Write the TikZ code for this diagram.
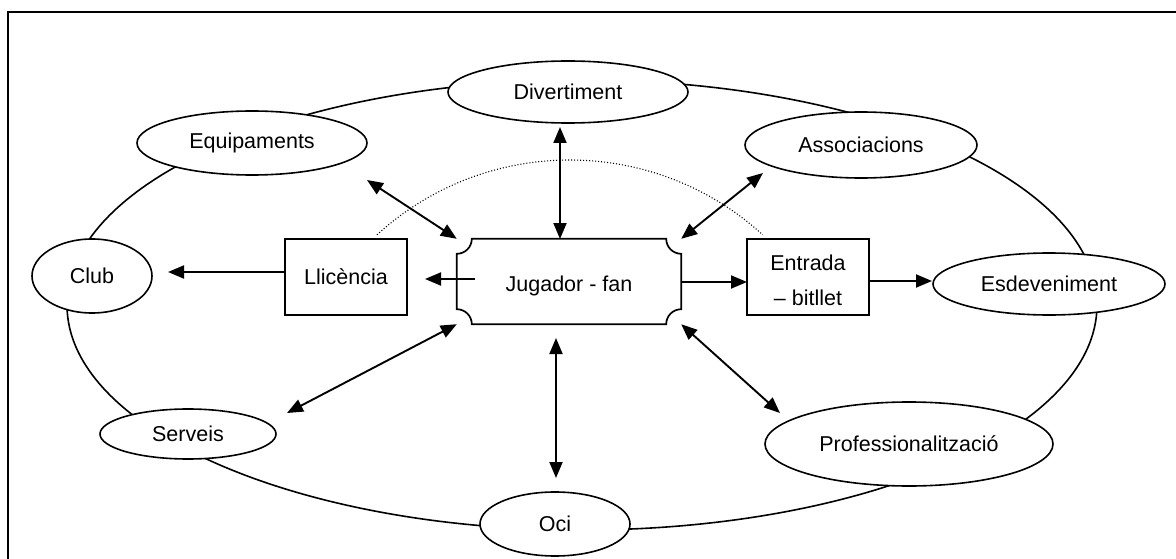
\documentclass[tikz,border=0pt]{standalone}
\usepackage{fontspec}
\setmainfont{Liberation Sans}
\usetikzlibrary{shapes.geometric,arrows.meta,calc}

\tikzset{
  lbl/.style={font=\fontsize{21.5}{35}\selectfont, text=black},
  oval/.style={ellipse, draw, line width=1.6pt, fill=white, inner sep=0pt, lbl},
  box/.style={rectangle, draw, line width=1.7pt, fill=white, inner sep=0pt, lbl, align=center,
              minimum width=122pt, minimum height=76pt},
  link/.style={line width=1.9pt, -{Triangle[length=16pt,width=13pt]}},
  both/.style={line width=1.9pt, {Triangle[length=16pt,width=13pt]}-{Triangle[length=16pt,width=13pt]}}
}

\begin{document}
\begin{tikzpicture}[x=1pt,y=1pt]
  \useasboundingbox (0,0) rectangle (1176,-559);
  % frame
  \draw[line width=2.5pt] (8,-559) -- (8,-12) -- (1176,-12);

  % the ring on which the satellite ovals sit
  \draw[line width=1.6pt] (582,-305) ellipse [x radius=515, y radius=225];

  % dotted arc over the centre
  \draw[line width=1.1pt, dash pattern=on 1pt off 2pt] (377,-234.8) arc[start angle=132.4, end angle=47.6, radius=286];

  % satellite ovals
  \node[oval, minimum width=240pt, minimum height=62pt] (dv) at (568,-92)  {Divertiment};
  \node[oval, minimum width=230pt, minimum height=64pt] (eq) at (252,-143) {Equipaments};
  \node[oval, minimum width=232pt, minimum height=66pt] (as) at (861,-145) {Associacions};
  \node[oval, minimum width=120pt, minimum height=74pt] (cl) at (92,-276)  {Club};
  \node[oval, minimum width=232pt, minimum height=62pt] (es) at (1049,-284) {Esdeveniment};
  \node[oval, minimum width=176pt, minimum height=50pt] (sv) at (188,-434) {Serveis};
  \node[oval, minimum width=150pt, minimum height=64pt] (oc) at (555,-524) {Oci};
  \node[oval, minimum width=288pt, minimum height=84pt] (pr) at (909,-444) {Professionalització};

  % rectangles
  \node[box] (ll) at (346,-277) {Llicència};
  \node[box] (en) at (808,-277) {};
  \node[lbl, align=center] (entxt) at ([yshift=-3pt]en.center) {Entrada\\– bitllet};

  % central plaque with concave corners
  \node[lbl, minimum width=224pt, minimum height=85pt, inner sep=0pt] (j) at (569,-281.5) {};
  \def\rr{15}
  \draw[line width=1.7pt, fill=white]
    ($(j.north west)+(\rr,0)$) -- ($(j.north east)+(-\rr,0)$)
    arc[start angle=180, end angle=270, radius=\rr]
    -- ($(j.south east)+(0,\rr)$)
    arc[start angle=90, end angle=180, radius=\rr]
    -- ($(j.south west)+(\rr,0)$)
    arc[start angle=0, end angle=90, radius=\rr]
    -- ($(j.north west)+(0,-\rr)$)
    arc[start angle=270, end angle=360, radius=\rr]
    -- cycle;
  \node[lbl] (jtxt) at ([yshift=-4pt]j.center) {Jugador - fan};

  % arrow end points
  \coordinate (llout) at (285,-272);
  \coordinate (clin)  at (168,-272);
  \coordinate (jin)   at (475,-279);
  \coordinate (llin)  at (425,-279);
  \coordinate (jout)  at (681,-282);
  \coordinate (enin)  at (747,-282);
  \coordinate (enout) at (869,-281);
  \coordinate (esin)  at (932,-281);
  \coordinate (dvend) at (560,-127);
  \coordinate (jtop)  at (560,-239);
  \coordinate (eqend) at (367,-180);
  \coordinate (asend) at (763,-173);
  \coordinate (svend) at (287,-413);
  \coordinate (ocend) at (556,-478);
  \coordinate (jbot)  at (556,-338);
  \coordinate (prend) at (780,-413);

  % connectors
  \draw[link] (llout) -- (clin);
  \draw[link] (jin) -- (llin);
  \draw[link] (jout) -- (enin);
  \draw[link] (enout) -- (esin);
  \draw[both] (dvend) -- (jtop);
  \draw[both] (eqend) -- (j.north west);
  \draw[both] (asend) -- (j.north east);
  \draw[both] (svend) -- (j.south west);
  \draw[both] (ocend) -- (jbot);
  \draw[both] (prend) -- (j.south east);
\end{tikzpicture}
\end{document}
